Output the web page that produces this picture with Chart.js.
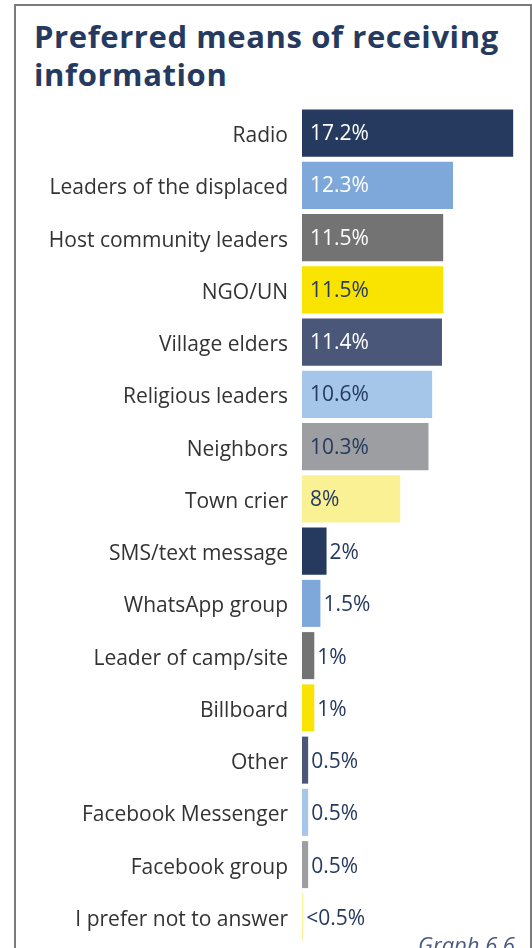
<!DOCTYPE html>
<html>
<head>
<meta charset="utf-8">
<script src="https://cdn.jsdelivr.net/npm/chart.js@4/dist/chart.umd.min.js"></script>
<style>
  html, body { margin: 0; padding: 0; background: #fff; }
  body { width: 532px; height: 948px; position: relative; overflow: hidden; }
  .frame {
    position: absolute; left: 14px; top: 4px; width: 514px; height: 1000px;
    border: 2px solid #7b7b7b; box-sizing: content-box;
  }
  h1 {
    position: absolute; left: 34px; top: 17px; margin: 0;
    font-family: "Open Sans", sans-serif; font-weight: 700; font-size: 31px;
    line-height: 38px; color: #253a5e; letter-spacing: 0.6px;
  }
  .caption {
    position: absolute; left: 418px; top: 929px;
    font-family: "Open Sans", sans-serif; font-style: italic; font-size: 22px;
    color: #4a5a80;
  }
  #wrap { position: absolute; left: 0; top: 0; width: 532px; height: 948px; }
</style>
</head>
<body>
<div class="frame"></div>
<h1>Preferred means of receiving<br>information</h1>
<div id="wrap"><canvas id="myChart"></canvas></div>
<div class="caption">Graph 6.6</div>
<script>
const categories = [
  "Radio",
  "Leaders of the displaced",
  "Host community leaders",
  "NGO/UN",
  "Village elders",
  "Religious leaders",
  "Neighbors",
  "Town crier",
  "SMS/text message",
  "WhatsApp group",
  "Leader of camp/site",
  "Billboard",
  "Other",
  "Facebook Messenger",
  "Facebook group",
  "I prefer not to answer"
];
const values = [17.2, 12.3, 11.5, 11.5, 11.4, 10.6, 10.3, 8, 2, 1.5, 1, 1, 0.5, 0.5, 0.5, 0.1];
const valueLabels = [
  "17.2%", "12.3%", "11.5%", "11.5%", "11.4%", "10.6%", "10.3%", "8%",
  "2%", "1.5%", "1%", "1%", "0.5%", "0.5%", "0.5%", "<0.5%"
];

// palette cycles every 8 bars
const palette = ['#253a5e', '#7fa8da', '#737373', '#f9e300', '#4b5778', '#a5c6e8', '#9d9ea2', '#faf195'];
const lightBars = ['#f9e300', '#a5c6e8', '#9d9ea2', '#faf195'];
const barColors = values.map((v, i) => palette[i % palette.length]);

const navy = '#253a5e';

const valueLabelPlugin = {
  id: 'valueLabels',
  afterDatasetsDraw(chart) {
    const ctx = chart.ctx;
    const meta = chart.getDatasetMeta(0);
    ctx.save();
    ctx.font = '400 21px "Open Sans"';
    ctx.textBaseline = 'middle';
    ctx.textAlign = 'left';
    meta.data.forEach((bar, i) => {
      const inside = values[i] >= 5;
      if (inside) {
        ctx.fillStyle = lightBars.includes(barColors[i]) ? navy : '#ffffff';
        ctx.fillText(valueLabels[i], bar.base + 8, bar.y + 1);
      } else {
        ctx.fillStyle = navy;
        ctx.fillText(valueLabels[i], bar.x + 3, bar.y + 2);
      }
    });
    ctx.restore();
  }
};

const ctx = document.getElementById('myChart').getContext('2d');
new Chart(ctx, {
  type: 'bar',
  data: {
    labels: categories,
    datasets: [{
      data: values,
      backgroundColor: barColors,
      borderWidth: 0,
      categoryPercentage: 0.9,
      barPercentage: 1
    }]
  },
  options: {
    indexAxis: 'y',
    responsive: true,
    maintainAspectRatio: false,
    animation: false,
    layout: { padding: { top: 107, bottom: 5, right: 9, left: 0 } },
    plugins: {
      legend: { display: false },
      tooltip: { enabled: false }
    },
    scales: {
      x: {
        display: false,
        min: 0,
        max: 18
      },
      y: {
        grid: { display: false, drawTicks: false },
        border: { display: false },
        afterFit(scale) {
          scale.width = 302;
          scale.paddingTop = 0;
          scale.paddingBottom = 0;
        },
        ticks: {
          padding: 14,
          labelOffset: 3,
          color: '#333333',
          font: { family: 'Open Sans', size: 21 }
        }
      }
    }
  },
  plugins: [valueLabelPlugin]
});
</script>
</body>
</html>
